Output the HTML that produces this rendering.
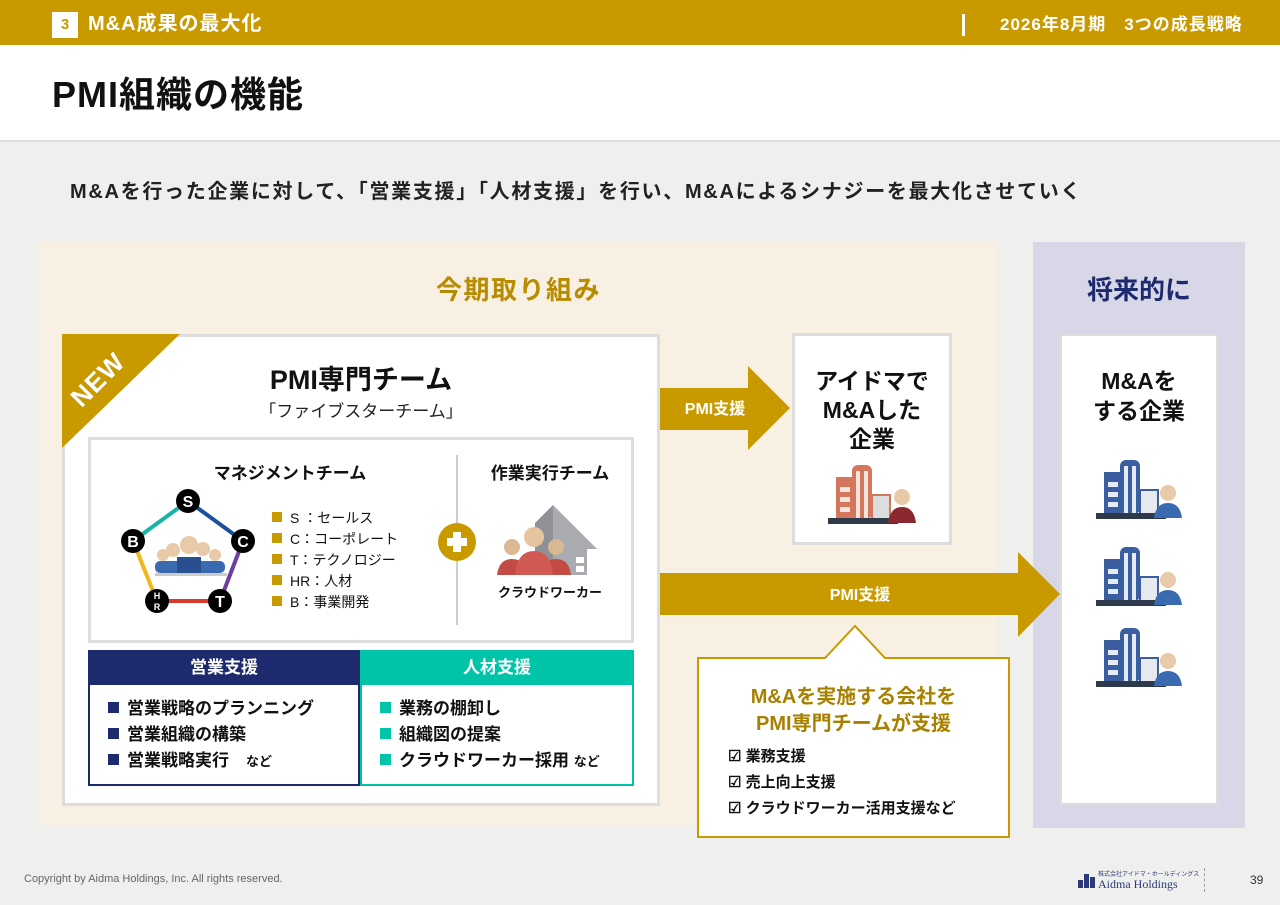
<!DOCTYPE html>
<html><head><meta charset="utf-8"><style>
*{margin:0;padding:0;box-sizing:border-box}
body{width:1280px;height:905px;position:relative;overflow:hidden;background:#eff0ee;font-family:"Liberation Sans","Noto Sans CJK JP",sans-serif;font-weight:bold;color:#111}
.a{position:absolute}
.c{text-align:center}
.sq{display:inline-block;width:10px;height:10px;margin-right:8px;vertical-align:1px}
</style></head><body>
<div class="a" style="left:0;top:0;width:1280px;height:45px;background:#c99a00"></div>
<div class="a c" style="left:52px;top:12px;width:26px;height:26px;background:#fff;color:#c99a00;font-size:15px;line-height:26px">3</div>
<div class="a" style="left:88px;top:9px;color:#fff;font-size:20px;line-height:30px;letter-spacing:1px">M&amp;A成果の最大化</div>
<div class="a" style="left:962px;top:14px;width:3px;height:22px;background:#fff"></div>
<div class="a" style="left:1000px;top:12px;color:#fff;font-size:17px;line-height:26px;letter-spacing:1px">2026年8月期　3つの成長戦略</div>
<div class="a" style="left:0;top:45px;width:1280px;height:97px;background:#fff;border-bottom:2px solid #ddd"></div>
<div class="a" style="left:52px;top:71px;font-size:36px;line-height:48px;color:#111;letter-spacing:1px">PMI組織の機能</div>
<div class="a" style="left:70px;top:177px;font-size:20px;line-height:30px;color:#222;letter-spacing:1.7px;white-space:nowrap">M&amp;Aを行った企業に対して、「営業支援」「人材支援」を行い、M&amp;Aによるシナジーを最大化させていく</div>

<div class="a" style="left:40px;top:242px;width:957px;height:584px;background:#f8f1e3"></div>
<div class="a c" style="left:40px;top:272px;width:957px;font-size:26px;color:#b88c00;line-height:36px;letter-spacing:1.5px">今期取り組み</div>
<div class="a" style="left:1033px;top:242px;width:212px;height:586px;background:#d8d7e8"></div>
<div class="a c" style="left:1033px;top:272px;width:212px;font-size:26px;color:#1e2a6e;line-height:36px">将来的に</div>
<div class="a" style="left:1060px;top:334px;width:158px;height:471px;background:#fff;border:2px solid #ddd"></div>
<div class="a c" style="left:1060px;top:366px;width:158px;font-size:23px;line-height:30px">M&amp;Aを<br>する企業</div>

<!-- main card -->
<div class="a" style="left:62px;top:334px;width:598px;height:472px;background:#fff;border:3px solid #ddd"></div>
<svg class="a" style="left:62px;top:334px" width="120" height="116"><polygon points="0,0 118,0 0,114" fill="#c99a00"/><text x="0" y="0" transform="translate(42,52) rotate(-45)" font-family="Liberation Sans" font-weight="bold" font-size="26" fill="#fff" text-anchor="middle" letter-spacing="1">NEW</text></svg>
<div class="a c" style="left:62px;top:362px;width:598px;font-size:27px;line-height:36px">PMI専門チーム</div>
<div class="a c" style="left:62px;top:400px;width:598px;font-size:17px;line-height:24px;font-weight:normal;color:#222">「ファイブスターチーム」</div>
<div class="a" style="left:88px;top:437px;width:546px;height:206px;border:3px solid #ddd;background:#fff"></div>
<div class="a" style="left:456px;top:455px;width:2px;height:170px;background:#ccc"></div>
<div class="a c" style="left:170px;top:462px;width:240px;font-size:17px;line-height:24px">マネジメントチーム</div>
<div class="a c" style="left:470px;top:462px;width:160px;font-size:17px;line-height:24px">作業実行チーム</div>
<svg class="a" style="left:115px;top:485px" width="150" height="135">
<line x1="73" y1="16" x2="128" y2="56" stroke="#1b4f9c" stroke-width="4"/>
<line x1="128" y1="56" x2="105" y2="116" stroke="#6a3fa0" stroke-width="4"/>
<line x1="105" y1="116" x2="42" y2="116" stroke="#d83a2c" stroke-width="4"/>
<line x1="42" y1="116" x2="18" y2="56" stroke="#f0b81c" stroke-width="4"/>
<line x1="18" y1="56" x2="73" y2="16" stroke="#1bb3a8" stroke-width="4"/>
<g fill="#e8c9a8"><circle cx="48" cy="70" r="6"/><circle cx="58" cy="65" r="7"/><circle cx="74" cy="60" r="9"/><circle cx="88" cy="64" r="7"/><circle cx="100" cy="70" r="6"/></g>
<rect x="40" y="76" width="70" height="12" rx="5" fill="#3a6ab0"/><rect x="62" y="72" width="24" height="16" fill="#2a4f90"/>
<rect x="40" y="88" width="72" height="3" fill="#ccc"/>
<g fill="#000">
<circle cx="73" cy="16" r="12"/><circle cx="128" cy="56" r="12"/><circle cx="105" cy="116" r="12"/><circle cx="42" cy="116" r="12"/><circle cx="18" cy="56" r="12"/></g>
<g fill="#fff" font-family="Liberation Sans" font-weight="bold" font-size="16" text-anchor="middle">
<text x="73" y="22">S</text><text x="128" y="62">C</text><text x="105" y="122">T</text><text x="18" y="62">B</text>
<text x="42" y="114" font-size="9">H</text><text x="42" y="125" font-size="9">R</text></g>
</svg>
<div class="a" style="left:272px;top:508px;font-size:14px;line-height:21px;font-weight:normal;color:#111">
<div><span class="sq" style="background:#c99a00"></span>S ：セールス</div>
<div><span class="sq" style="background:#c99a00"></span>C：コーポレート</div>
<div><span class="sq" style="background:#c99a00"></span>T：テクノロジー</div>
<div><span class="sq" style="background:#c99a00"></span>HR：人材</div>
<div><span class="sq" style="background:#c99a00"></span>B：事業開発</div>
</div>
<svg class="a" style="left:436px;top:521px" width="42" height="42"><circle cx="21" cy="21" r="19" fill="#c99a00"/><rect x="11" y="17" width="20" height="8" fill="#fff"/><rect x="17" y="11" width="8" height="20" fill="#fff"/></svg>
<svg class="a" style="left:495px;top:505px" width="110" height="70">
<polygon points="58,0 102,44 92,44 92,70 58,70" fill="#a9abb0"/><polygon points="58,0 40,18 40,70 58,70" fill="#8f9196"/>
<rect x="81" y="52" width="8" height="6" fill="#fff"/><rect x="81" y="61" width="8" height="6" fill="#fff"/>
<circle cx="17" cy="42" r="8" fill="#d9b894"/><circle cx="61" cy="42" r="8" fill="#d9b894"/><circle cx="39" cy="32" r="10" fill="#e6c4a0"/>
<path d="M2,70 Q4,54 17,54 Q30,54 32,70Z" fill="#c44a44"/><path d="M46,70 Q48,54 61,54 Q74,54 76,70Z" fill="#c44a44"/><path d="M20,70 Q22,46 39,46 Q56,46 58,70Z" fill="#d05a52"/>
</svg>
<div class="a c" style="left:470px;top:583px;width:160px;font-size:13px;line-height:20px">クラウドワーカー</div>

<!-- support boxes -->
<div class="a" style="left:88px;top:650px;width:272px;height:136px;border:2px solid #1e2a6e;background:#fff"></div>
<div class="a c" style="left:88px;top:650px;width:272px;height:35px;background:#1e2a6e;color:#fff;font-size:17px;line-height:35px">営業支援</div>
<div class="a" style="left:360px;top:650px;width:274px;height:136px;border:2px solid #00c4a8;background:#fff"></div>
<div class="a c" style="left:360px;top:650px;width:274px;height:35px;background:#00c4a8;color:#fff;font-size:17px;line-height:35px">人材支援</div>
<div class="a" style="left:108px;top:696px;font-size:17px;line-height:26px;color:#111">
<div><span class="sq" style="background:#1e2a6e;width:11px;height:11px"></span>営業戦略のプランニング</div>
<div><span class="sq" style="background:#1e2a6e;width:11px;height:11px"></span>営業組織の構築</div>
<div><span class="sq" style="background:#1e2a6e;width:11px;height:11px"></span>営業戦略実行　<span style="font-size:13px">など</span></div>
</div>
<div class="a" style="left:380px;top:696px;font-size:17px;line-height:26px;color:#111">
<div><span class="sq" style="background:#00c4a8;width:11px;height:11px"></span>業務の棚卸し</div>
<div><span class="sq" style="background:#00c4a8;width:11px;height:11px"></span>組織図の提案</div>
<div><span class="sq" style="background:#00c4a8;width:11px;height:11px"></span>クラウドワーカー採用 <span style="font-size:13px">など</span></div>
</div>

<!-- arrows -->
<svg class="a" style="left:0;top:0" width="1280" height="905">
<polygon points="660,388 748,388 748,366 790,408 748,450 748,430 660,430" fill="#c99a00"/>
<polygon points="660,573 1018,573 1018,552 1060,594 1018,637 1018,615 660,615" fill="#c99a00"/>
<polygon points="698,658 825,658 855,626 885,658 1009,658 1009,837 698,837" fill="#fff" stroke="#c99a00" stroke-width="2"/>
</svg>
<div class="a c" style="left:660px;top:398px;width:110px;color:#fff;font-size:16px;line-height:24px">PMI支援</div>
<div class="a c" style="left:760px;top:584px;width:200px;color:#fff;font-size:16px;line-height:24px">PMI支援</div>
<div class="a c" style="left:698px;top:684px;width:311px;color:#a88000;font-size:20px;line-height:27px">M&amp;Aを実施する会社を<br>PMI専門チームが支援</div>
<div class="a" style="left:728px;top:744px;font-size:15px;line-height:26px;color:#111">
<div>☑ 業務支援</div><div>☑ 売上向上支援</div><div>☑ クラウドワーカー活用支援など</div>
</div>

<!-- aidma box -->
<div class="a" style="left:792px;top:333px;width:160px;height:212px;background:#fff;border:3px solid #ddd"></div>
<div class="a c" style="left:792px;top:367px;width:160px;font-size:23px;line-height:29px">アイドマで<br>M&amp;Aした<br>企業</div>
<svg class="a" style="left:828px;top:463px" width="92" height="62">
<rect x="8" y="14" width="18" height="42" fill="#d4765c"/><rect x="24" y="2" width="20" height="54" fill="#d4765c" rx="6"/><rect x="28" y="8" width="4" height="48" fill="#f4e4de"/><rect x="36" y="8" width="4" height="48" fill="#f4e4de"/>
<rect x="12" y="24" width="10" height="5" fill="#f4e4de"/><rect x="12" y="34" width="10" height="5" fill="#f4e4de"/><rect x="12" y="44" width="10" height="5" fill="#f4e4de"/>
<rect x="44" y="32" width="18" height="24" fill="#ddd" stroke="#d4765c" stroke-width="2"/>
<rect x="0" y="55" width="70" height="6" fill="#2e3a4a"/>
<circle cx="74" cy="34" r="8" fill="#e8c9a8"/><path d="M60,60 Q62,44 74,44 Q86,44 88,60Z" fill="#8a2a30"/>
</svg>
<svg class="a" style="left:1096px;top:458px" width="92" height="232">
<defs><g id="b">
<rect x="8" y="14" width="18" height="42" fill="#3a5ea0"/><rect x="24" y="2" width="20" height="54" fill="#3a5ea0" rx="6"/><rect x="28" y="8" width="4" height="48" fill="#e4ebf4"/><rect x="36" y="8" width="4" height="48" fill="#e4ebf4"/>
<rect x="12" y="24" width="10" height="5" fill="#e4ebf4"/><rect x="12" y="34" width="10" height="5" fill="#e4ebf4"/><rect x="12" y="44" width="10" height="5" fill="#e4ebf4"/>
<rect x="44" y="32" width="18" height="24" fill="#e6e9ee" stroke="#3a5ea0" stroke-width="2"/>
<rect x="0" y="55" width="70" height="6" fill="#2e3a4a"/>
<circle cx="72" cy="35" r="8" fill="#e8c9a8"/><path d="M58,60 Q60,45 72,45 Q84,45 86,60Z" fill="#3a6ab0"/>
</g></defs>
<use href="#b" y="0"/><use href="#b" y="87"/><use href="#b" y="168"/>
</svg>

<!-- footer -->
<div class="a" style="left:24px;top:873px;font-size:11px;font-weight:normal;color:#666">Copyright by Aidma Holdings, Inc. All rights reserved.</div>
<svg class="a" style="left:1078px;top:872px" width="20" height="18"><rect x="0" y="8" width="5" height="8" fill="#2a3a7a"/><rect x="6" y="2" width="5" height="14" fill="#2a3a7a"/><rect x="12" y="5" width="5" height="11" fill="#2a3a7a"/></svg>
<div class="a" style="left:1098px;top:869px;font-size:6px;font-weight:normal;color:#2a3a7a">株式会社アイドマ・ホールディングス</div>
<div class="a" style="left:1098px;top:877px;font-size:12px;font-weight:normal;color:#2a3a7a;font-family:'Liberation Serif',serif">Aidma Holdings</div>
<div class="a" style="left:1204px;top:868px;height:24px;border-left:1px dashed #999"></div>
<div class="a" style="left:1250px;top:873px;font-size:12px;font-weight:normal;color:#333">39</div>
</body></html>
